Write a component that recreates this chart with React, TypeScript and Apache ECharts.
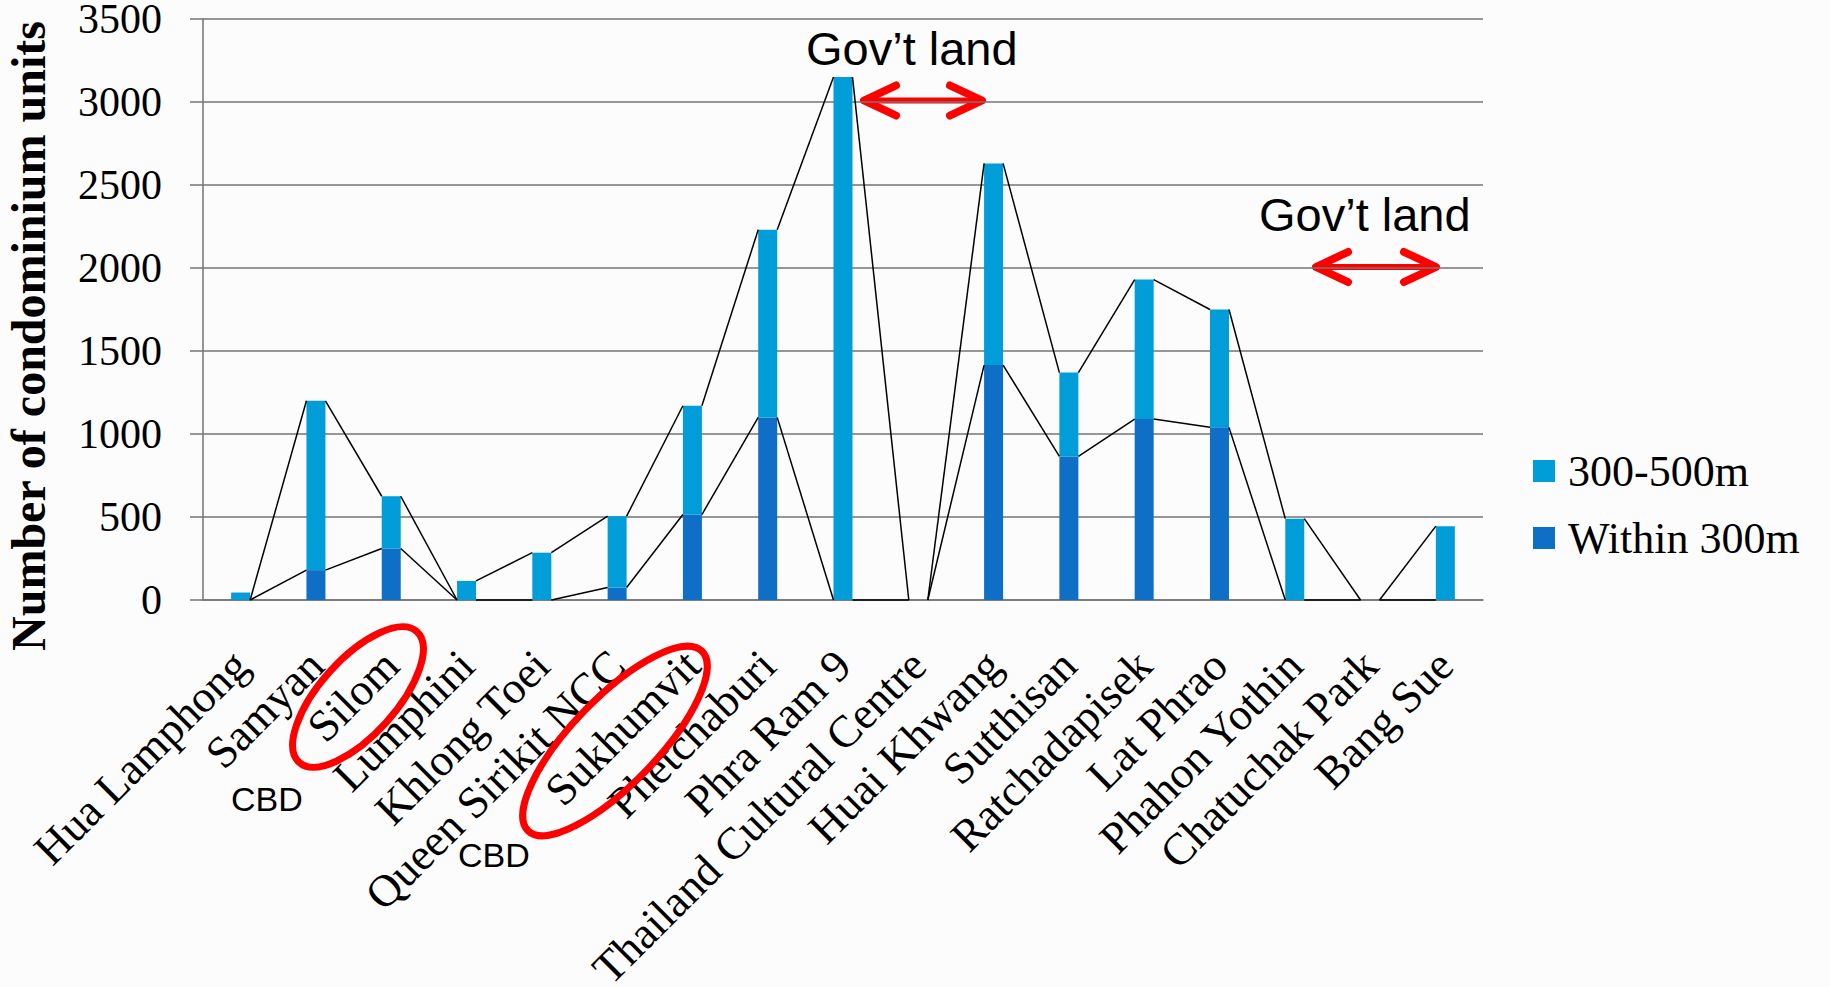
import React, { useEffect, useRef } from 'react';
import * as echarts from 'echarts';

const categories = [
  'Hua Lamphong', 'Samyan', 'Silom', 'Lumphini', 'Khlong Toei', 'Queen Sirikit NCC',
  'Sukhumvit', 'Phetchaburi', 'Phra Ram 9', 'Thailand Cultural Centre', 'Huai Khwang',
  'Sutthisan', 'Ratchadapisek', 'Lat Phrao', 'Phahon Yothin', 'Chatuchak Park', 'Bang Sue',
];
// units within 300 m of the station (dark blue, bottom of stack)
const within300 = [0, 180, 310, 0, 0, 75, 515, 1100, 0, 0, 1415, 865, 1090, 1040, 0, 0, 0];
// units 300-500 m from the station (light blue, top of stack)
const from300to500 = [45, 1020, 315, 115, 285, 430, 655, 1130, 3150, 0, 1215, 505, 840, 710, 490, 0, 445];
// series-line levels of the upper line as drawn: where it arrives at / leaves each bar
const upperLineIn = [45, 1200, 625, 0, 285, 505, 1170, 2230, 3150, 0, 2630, 1370, 1930, 1750, 490, 0, 445];
const upperLineOut = [0, 1200, 625, 115, 285, 505, 1170, 2230, 3150, 0, 2630, 1370, 1930, 1750, 490, 0, 445];
const yMin = 0;
const yMax = 3500;
const yInterval = 500;
const legendNames = ['300-500m', 'Within 300m'];

const BAR_W = 19;
const LIGHT = '#009DD9';
const DARK = '#0F6FC6';
const GRID = '#747474';
const SERIF = '"Liberation Serif", "Times New Roman", serif';
const SANS = '"Liberation Sans", Arial, sans-serif';

function seriesLines(outVals: number[], inVals: number[]) {
  return {
    type: 'custom',
    silent: true,
    z: 5,
    data: outVals.slice(0, -1).map((v, i) => [i, v, inVals[i + 1]]),
    encode: { x: 0, y: [1, 2] },
    renderItem: (_params: any, api: any) => {
      const i = api.value(0);
      const a = api.coord([i, api.value(1)]);
      const b = api.coord([i + 1, api.value(2)]);
      return {
        type: 'line',
        shape: { x1: a[0] + BAR_W / 2, y1: a[1], x2: b[0] - BAR_W / 2, y2: b[1] },
        style: { stroke: '#000', lineWidth: 1.5 },
      };
    },
  };
}

function arrow(x1: number, x2: number, y: number) {
  const red = '#FF0000';
  const armX = 32;
  const armY = 15;
  return [
    { type: 'line', shape: { x1: x1 + 3, y1: y, x2: x2 - 3, y2: y }, style: { stroke: red, lineWidth: 6, lineCap: 'round' } },
    { type: 'polyline', shape: { points: [[x1 + armX, y - armY], [x1, y], [x1 + armX, y + armY]] }, style: { stroke: red, fill: 'none', lineWidth: 8, lineCap: 'round', lineJoin: 'round' } },
    { type: 'polyline', shape: { points: [[x2 - armX, y - armY], [x2, y], [x2 - armX, y + armY]] }, style: { stroke: red, fill: 'none', lineWidth: 8, lineCap: 'round', lineJoin: 'round' } },
  ];
}

function ring(cx: number, cy: number, rx: number, ry: number, deg: number) {
  return {
    type: 'ellipse',
    x: cx,
    y: cy,
    rotation: (deg * Math.PI) / 180,
    shape: { cx: 0, cy: 0, rx, ry },
    style: { fill: 'none', stroke: '#FF0000', lineWidth: 7 },
    z: 10,
  };
}

export default function App() {
  const ref = useRef<HTMLDivElement>(null);
  useEffect(() => {
    if (!ref.current) return;
    const chart = echarts.init(ref.current, null, { renderer: 'svg' });
    chart.setOption({
      animation: false,
      backgroundColor: '#fcfcfc',
      grid: { left: 203, right: 347, top: 19, bottom: 387, containLabel: false, outerBoundsMode: 'none' },
      legend: {
        data: legendNames,
        orient: 'vertical',
        left: 1528,
        top: 444,
        itemWidth: 22,
        itemHeight: 22,
        itemGap: 23,
        selectedMode: false,
        icon: 'rect',
        textStyle: { fontSize: 44, fontFamily: SERIF, color: '#000', lineHeight: 44, padding: [0, 0, 0, 8] },
      },
      xAxis: {
        type: 'category',
        data: categories,
        axisLine: { show: true, lineStyle: { color: GRID, width: 1.5 } },
        axisTick: { show: false },
        axisLabel: {
          interval: 0,
          rotate: 45,
          margin: 58,
          fontSize: 45,
          fontFamily: SERIF,
          color: '#000',
          hideOverlap: false,
        },
      },
      yAxis: {
        type: 'value',
        min: yMin,
        max: yMax,
        interval: yInterval,
        axisLine: { show: true, lineStyle: { color: GRID, width: 1.5 } },
        axisTick: { show: true, length: 13, lineStyle: { color: GRID, width: 1.5 } },
        splitLine: { show: true, lineStyle: { color: GRID, width: 1.5 } },
        axisLabel: {
          margin: 41,
          fontSize: 42,
          fontFamily: SERIF,
          color: '#000',
          padding: [16, 0, 0, 0],
          formatter: (v: number) => String(v),
        },
      },
      series: [
        {
          name: 'Within 300m',
          type: 'bar',
          stack: 'units',
          barWidth: BAR_W,
          data: within300,
          itemStyle: { color: DARK },
        },
        {
          name: '300-500m',
          type: 'bar',
          stack: 'units',
          barWidth: BAR_W,
          data: from300to500,
          itemStyle: { color: LIGHT },
        },
        seriesLines(within300, within300),
        seriesLines(upperLineOut, upperLineIn),
      ],
      graphic: [
        {
          type: 'text',
          x: 28,
          y: 336,
          rotation: Math.PI / 2,
          style: {
            text: 'Number of condominium units',
            font: `bold 48px ${SERIF}`,
            fill: '#000',
            textAlign: 'center',
            textVerticalAlign: 'middle',
          },
        },
        { type: 'text', x: 806, y: 48.5, style: { text: 'Gov’t land', font: `47px ${SANS}`, fill: '#000', textAlign: 'left', textVerticalAlign: 'middle' } },
        { type: 'text', x: 1259, y: 214.5, style: { text: 'Gov’t land', font: `47px ${SANS}`, fill: '#000', textAlign: 'left', textVerticalAlign: 'middle' } },
        ...arrow(864, 982, 100.5),
        ...arrow(1316, 1436, 267),
        { type: 'text', x: 231, y: 799, style: { text: 'CBD', font: `34px ${SANS}`, fill: '#000', textAlign: 'left', textVerticalAlign: 'middle' } },
        { type: 'text', x: 458, y: 855, style: { text: 'CBD', font: `34px ${SANS}`, fill: '#000', textAlign: 'left', textVerticalAlign: 'middle' } },
        ring(358, 697, 88, 38, 48),
        ring(615, 741, 125, 43, 46),
      ],
    });
    return () => chart.dispose();
  }, []);
  return (
    <div
      ref={ref}
      style={{ position: 'fixed', left: 0, top: 0, width: 1830, height: 987, background: '#fcfcfc' }}
    />
  );
}
